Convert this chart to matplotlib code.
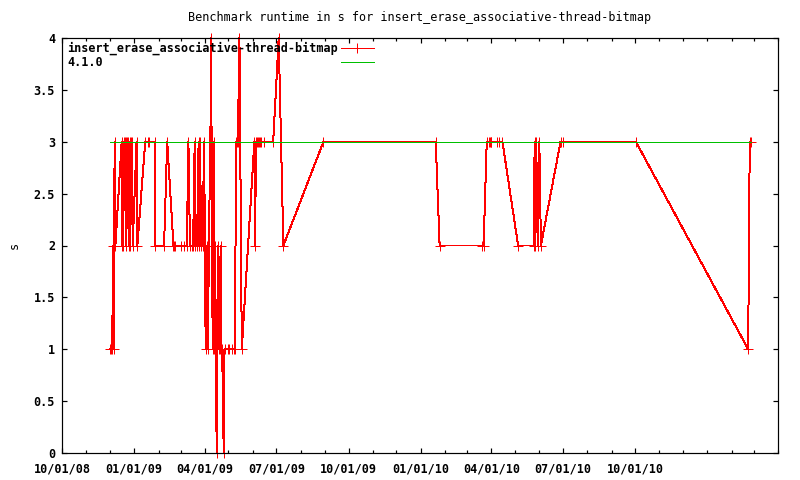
import pandas as pd
import matplotlib
matplotlib.use("Agg")
import matplotlib.pyplot as plt
import matplotlib.dates as mdates
from matplotlib.lines import Line2D

plt.rcParams['font.family'] = ['DejaVu Sans Mono']

TITLE = "Benchmark runtime in s for insert_erase_associative-thread-bitmap"
SERIES_NAME = "insert_erase_associative-thread-bitmap"
REF_NAME = "4.1.0"

# benchmark runs (date, seconds)
run_dates = [
    "2008-12-01", "2008-12-02", "2008-12-04", "2008-12-05", "2008-12-06", "2008-12-07",
    "2008-12-08", "2008-12-16", "2008-12-17", "2008-12-18", "2008-12-19", "2008-12-20",
    "2008-12-21", "2008-12-22", "2008-12-23", "2008-12-24", "2008-12-25", "2008-12-26",
    "2008-12-27", "2008-12-28", "2008-12-29", "2008-12-30", "2009-01-04", "2009-01-05",
    "2009-01-15", "2009-01-18", "2009-01-20", "2009-01-27", "2009-01-28", "2009-02-08",
    "2009-02-12", "2009-02-20", "2009-02-21", "2009-02-22", "2009-03-01", "2009-03-05",
    "2009-03-09", "2009-03-11", "2009-03-13", "2009-03-15", "2009-03-17", "2009-03-19",
    "2009-03-20", "2009-03-22", "2009-03-24", "2009-03-25", "2009-03-26", "2009-03-27",
    "2009-03-29", "2009-03-31", "2009-04-01", "2009-04-02", "2009-04-04", "2009-04-05",
    "2009-04-06", "2009-04-08", "2009-04-09", "2009-04-10", "2009-04-11", "2009-04-12",
    "2009-04-13", "2009-04-14", "2009-04-15", "2009-04-16", "2009-04-17", "2009-04-18",
    "2009-04-19", "2009-04-20", "2009-04-21", "2009-04-22", "2009-04-23", "2009-04-25",
    "2009-04-26", "2009-04-30", "2009-05-02", "2009-05-05", "2009-05-08", "2009-05-09",
    "2009-05-11", "2009-05-12", "2009-05-13", "2009-05-15", "2009-05-18", "2009-06-03",
    "2009-06-04", "2009-06-05", "2009-06-06", "2009-06-08", "2009-06-09", "2009-06-10",
    "2009-06-12", "2009-06-15", "2009-06-27", "2009-07-04", "2009-07-10", "2009-08-30",
    "2010-01-20", "2010-01-25", "2010-03-20", "2010-03-22", "2010-03-26", "2010-03-29",
    "2010-03-30", "2010-03-31", "2010-04-01", "2010-04-08", "2010-04-10", "2010-04-15",
    "2010-05-05", "2010-05-25", "2010-05-26", "2010-05-27", "2010-05-28", "2010-05-30",
    "2010-06-01", "2010-06-03", "2010-06-28", "2010-07-01", "2010-10-02", "2011-02-22",
    "2011-02-24", "2011-02-25",
]
run_seconds = [
    1, 1, 1, 2, 1, 3,
    2, 3, 2, 2, 3, 3,
    3, 2, 3, 3, 2, 3,
    2, 3, 3, 2, 3, 2,
    3, 3, 3, 3, 2, 2,
    3, 2, 2, 2, 2, 2,
    2, 3, 2, 2, 2, 3,
    2, 2, 3, 2, 3, 2,
    2, 3, 2, 1, 2, 1,
    2, 3, 4, 2, 1, 3,
    1, 2, 1, 0, 1, 2,
    1, 1, 2, 1, 1, 0,
    1, 1, 1, 1, 1, 1,
    3, 3, 3, 4, 1, 3,
    2, 3, 3, 3, 3, 3,
    3, 3, 3, 4, 2, 3,
    3, 2, 2, 2, 3, 3,
    3, 3, 3, 3, 3, 3,
    2, 2, 3, 2, 3, 2,
    3, 2, 3, 3, 3, 1,
    3, 3,
]

# reference version 4.1.0
ref_dates = ["2008-12-01", "2011-02-25"]
ref_seconds = [3, 3]

xlim_dates = ["2008-10-01", "2011-04-01"]
xtick_dates = ["2008-10-01", "2009-01-01", "2009-04-01", "2009-07-01", "2009-10-01",
               "2010-01-01", "2010-04-01", "2010-07-01", "2010-10-01"]
xtick_labels = ["10/01/08", "01/01/09", "04/01/09", "07/01/09", "10/01/09",
                "01/01/10", "04/01/10", "07/01/10", "10/01/10"]
ytick_values = [0, 0.5, 1, 1.5, 2, 2.5, 3, 3.5, 4]
ytick_labels = ["0", "0.5", "1", "1.5", "2", "2.5", "3", "3.5", "4"]

RED = "#ff0000"
GREEN = "#00c000"
PX = 0.72  # one pixel in points at dpi 100

fig = plt.figure(figsize=(8, 4.8), dpi=100)
ax = fig.add_axes([62 / 800, 27 / 480, 716 / 800, 415 / 480])

ax.plot(pd.to_datetime(run_dates), run_seconds, color=RED, linewidth=PX,
        marker='+', markersize=6.5, markeredgewidth=PX, clip_on=False,
        antialiased=False, zorder=2)
ax.plot(pd.to_datetime(ref_dates), ref_seconds, color=GREEN, linewidth=PX,
        clip_on=False, antialiased=False, zorder=3)

ax.set_xlim(pd.to_datetime(xlim_dates))
ax.set_ylim(0, 4)
ax.set_xticks(pd.to_datetime(xtick_dates))
ax.set_xticklabels(xtick_labels, fontweight='bold')
ax.xaxis.set_minor_locator(mdates.MonthLocator())
ax.set_yticks(ytick_values)
ax.set_yticklabels(ytick_labels, fontweight='bold')

for s in ax.spines.values():
    s.set_linewidth(PX * 1.2)
ax.tick_params(which='major', direction='in', top=True, right=True,
               length=5 * PX, width=PX * 1.2, labelsize=8.5)
ax.tick_params(which='minor', direction='in', top=True, right=True,
               length=3 * PX, width=PX * 1.2)
ax.tick_params(axis='x', pad=7)
ax.tick_params(axis='y', pad=5)

fig.text(420 / 800, 1 - 18 / 480, TITLE, ha='center', va='center', fontsize=8.5)
fig.text(14 / 800, 1 - 245 / 480, "s", ha='center', va='center', rotation=90, fontsize=8.5)

# key: text left, sample on the right (gnuplot style)
fig.text(67 / 800, 1 - 48 / 480, SERIES_NAME, ha='left', va='center',
         fontsize=8.5, fontweight='bold')
fig.text(67 / 800, 1 - 62 / 480, REF_NAME, ha='left', va='center',
         fontsize=8.5, fontweight='bold')
fig.add_artist(Line2D([341 / 800, 374 / 800], [1 - 48 / 480] * 2, transform=fig.transFigure,
                      color=RED, linewidth=PX, antialiased=False))
fig.add_artist(Line2D([357 / 800], [1 - 48 / 480], transform=fig.transFigure,
                      color=RED, marker='+', markersize=6.5, markeredgewidth=PX,
                      antialiased=False))
fig.add_artist(Line2D([341 / 800, 374 / 800], [1 - 62 / 480] * 2, transform=fig.transFigure,
                      color=GREEN, linewidth=PX, antialiased=False))

fig.savefig("out.png", dpi=100)
